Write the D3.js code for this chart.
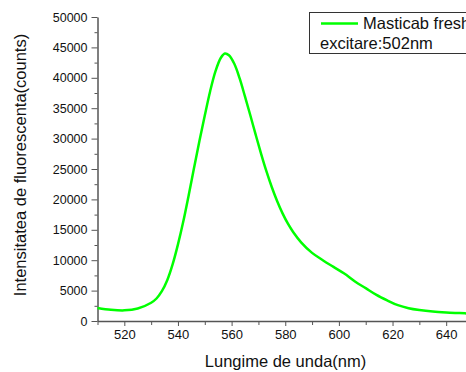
<!DOCTYPE html>
<html>
<head>
<meta charset="utf-8">
<script src="https://cdn.jsdelivr.net/npm/d3@7"></script>
<style>
  html, body { margin: 0; padding: 0; background: #fff; }
  svg { display: block; font-family: "Liberation Sans", Arial, sans-serif; }
</style>
</head>
<body>
<div id="chart"></div>
<script>
// emission spectrum, excitation at 502 nm
const wavelength = [510, 515, 520, 525, 530, 532, 534, 536, 538, 540, 542, 544, 546, 548, 550, 552, 554, 556,
  557.5, 559, 561, 563, 565, 567, 569, 571, 573, 575, 577, 579, 581, 583, 586, 590, 594, 598, 602, 606,
  610, 614, 618, 622, 626, 630, 635, 640, 645, 650];
const counts = [2150, 1850, 1750, 2050, 3000, 3700, 4900, 6700, 9300, 12600, 16400, 20700, 25200, 29600,
  33800, 37800, 41100, 43300, 44000, 43700, 42300, 39900, 36900, 33800, 30600, 27500, 24600, 22000, 19700,
  17700, 16000, 14600, 12900, 11200, 10000, 8900, 7800, 6500, 5400, 4300, 3400, 2600, 2100, 1800, 1550,
  1400, 1300, 1200];

const xMajor = [520, 540, 560, 580, 600, 620, 640];
const xMinor = [510, 530, 550, 570, 590, 610, 630, 650];
const yMajor = [0, 5000, 10000, 15000, 20000, 25000, 30000, 35000, 40000, 45000, 50000];
const yMinor = [2500, 7500, 12500, 17500, 22500, 27500, 32500, 37500, 42500, 47500];

const seriesName = "Masticab fresh";
const seriesNote = "excitare:502nm";
const xTitle = "Lungime de unda(nm)";
const yTitle = "Intensitatea de fluorescenta(counts)";

const W = 466, H = 372;
const margin = { top: 17, right: -7, bottom: 51, left: 97.5 };
const axisColor = "#555";
const lineColor = "#00ff00";

const svg = d3.select("#chart").append("svg")
  .attr("width", W).attr("height", H);

const x = d3.scaleLinear().domain([510, 650]).range([margin.left, W - margin.right]);
const y = d3.scaleLinear().domain([0, 50000]).range([H - margin.bottom, margin.top]);

// minor ticks first, majors with labels on top
svg.append("g")
  .attr("transform", `translate(0,${y(0)})`)
  .call(d3.axisBottom(x).tickValues(xMinor).tickSize(4).tickFormat(""))
  .call(g => g.select(".domain").remove())
  .call(g => g.selectAll(".tick line").attr("stroke", axisColor));

svg.append("g")
  .attr("transform", `translate(0,${y(0)})`)
  .call(d3.axisBottom(x).tickValues(xMajor).tickSize(5).tickSizeOuter(0).tickPadding(4).tickFormat(d3.format("d")))
  .call(g => g.select(".domain").attr("stroke", axisColor).attr("stroke-width", 1.5))
  .call(g => g.selectAll(".tick line").attr("stroke", axisColor))
  .call(g => g.selectAll(".tick text").attr("fill", "#111").attr("font-size", 13));

svg.append("g")
  .attr("transform", `translate(${x(510)},0)`)
  .call(d3.axisLeft(y).tickValues(yMinor).tickSize(3).tickFormat(""))
  .call(g => g.select(".domain").remove())
  .call(g => g.selectAll(".tick line").attr("stroke", axisColor));

svg.append("g")
  .attr("transform", `translate(${x(510)},0)`)
  .call(d3.axisLeft(y).tickValues(yMajor).tickSize(6).tickSizeOuter(0).tickPadding(4).tickFormat(d3.format("d")))
  .call(g => g.select(".domain").attr("stroke", axisColor).attr("stroke-width", 1.5))
  .call(g => g.selectAll(".tick line").attr("stroke", axisColor))
  .call(g => g.selectAll(".tick text").attr("fill", "#111").attr("font-size", 12.5));

// spectrum
const line = d3.line()
  .x((d, i) => x(wavelength[i]))
  .y(d => y(d))
  .curve(d3.curveCatmullRom);

svg.append("path")
  .attr("d", line(counts))
  .attr("fill", "none")
  .attr("stroke", lineColor)
  .attr("stroke-width", 2.5);

// axis titles
svg.append("text")
  .attr("x", 285.5).attr("y", 367)
  .attr("text-anchor", "middle")
  .attr("font-size", 16.5).attr("fill", "#111")
  .text(xTitle);

svg.append("text")
  .attr("transform", "translate(26,165) rotate(-90)")
  .attr("text-anchor", "middle")
  .attr("font-size", 16.5).attr("fill", "#111")
  .text(yTitle);

// legend box, runs past the right edge
const legend = svg.append("g");
legend.append("rect")
  .attr("x", 309.5).attr("y", 12.5)
  .attr("width", 200).attr("height", 41)
  .attr("fill", "#fff").attr("stroke", "#333").attr("stroke-width", 1);
legend.append("line")
  .attr("x1", 321).attr("x2", 358).attr("y1", 23.5).attr("y2", 23.5)
  .attr("stroke", lineColor).attr("stroke-width", 2.5);
legend.append("text")
  .attr("x", 363).attr("y", 28.5)
  .attr("font-size", 16.5).attr("fill", "#111")
  .text(seriesName);
legend.append("text")
  .attr("x", 320).attr("y", 48.5)
  .attr("font-size", 16.5).attr("fill", "#111")
  .text(seriesNote);
</script>
</body>
</html>
